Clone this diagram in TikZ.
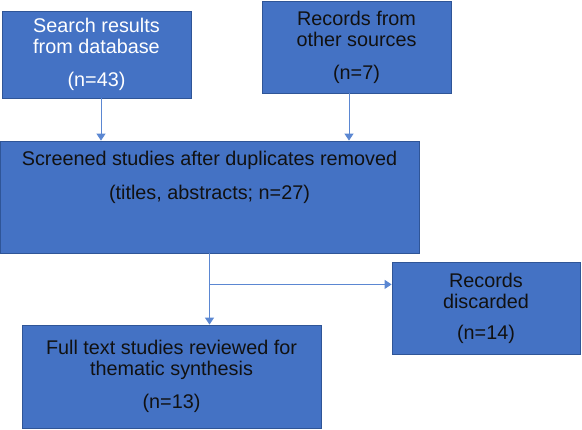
\documentclass[tikz,border=0pt]{standalone}
\usepackage{fontspec}
\setmainfont{Liberation Sans}
\usetikzlibrary{arrows.meta,positioning}
\definecolor{boxblue}{HTML}{4472C4}
\definecolor{edgeblue}{HTML}{2F5597}
\definecolor{linkblue}{HTML}{5B87D2}
\definecolor{inkdark}{HTML}{111111}
\tikzset{
  box/.style={draw=edgeblue, line width=0.8pt, fill=boxblue, inner sep=0pt,
    align=center, text=inkdark, font=\fontsize{19.8}{21}\selectfont},
  boxtext/.style={inner sep=0pt, align=center, text=inkdark,
    font=\fontsize{19.8}{21}\selectfont},
  link/.style={draw=linkblue, line width=0.9pt, -{Triangle[width=9pt,length=7pt]}},
}
\begin{document}
\begin{tikzpicture}[x=1pt,y=-1pt]
  \useasboundingbox (0,0) rectangle (582,430);

  %%% sources
  \node[box, text=white, minimum width=189pt, minimum height=87pt] (srch) at (96.5,54.5)
    {Search results\\from database\\[12pt](n=43)};
  \node[box, minimum width=189pt, minimum height=92pt] (recs) at (356.5,47)
    {Records from\\other sources\\[12pt](n=7)};

  %%% screening
  \node[box, minimum width=419pt, minimum height=112pt] (scrn) at (209.5,197) {};
  \node[boxtext, anchor=north] (scrn-t) at (209.5,151)
    {Screened studies after duplicates removed\\[13pt](titles, abstracts; n=27)};

  %%% outcome
  \node[box, minimum width=188pt, minimum height=92pt] (disc) at (486,308)
    {Records\\discarded\\[10pt](n=14)};
  \node[box, minimum width=299pt, minimum height=103pt] (full) at (171.5,376.5)
    {Full text studies reviewed for\\thematic synthesis\\[12pt](n=13)};

  %%% links
  \draw[link] ([xshift=4.5pt]srch.south) -- ([xshift=4.5pt]srch.south |- scrn.north);
  \draw[link] ([xshift=-7.5pt]recs.south) -- ([xshift=-7.5pt]recs.south |- scrn.north);
  \path (scrn.south) ++(0,31) coordinate (split);
  \draw[link] (scrn.south) -- (scrn.south |- full.north);
  \draw[link] (split) -- (split -| disc.west);
\end{tikzpicture}
\end{document}
